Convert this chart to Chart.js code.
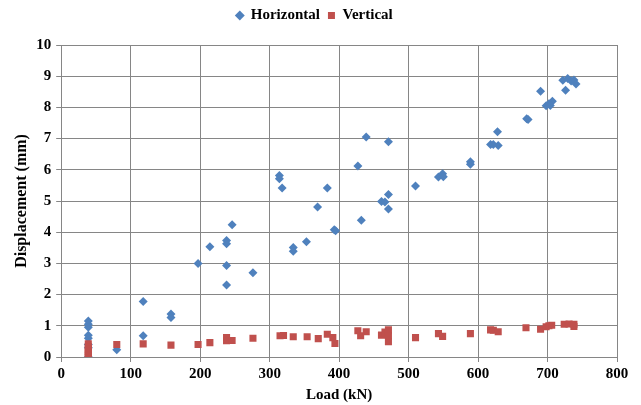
<!DOCTYPE html>
<html lang="en">
<head>
    <meta charset="UTF-8">
    <title>Load vs Displacement</title>
    <script src="https://cdn.jsdelivr.net/npm/chart.js@4.4.0/dist/chart.umd.min.js"></script>
    <style>
        body { margin: 0; background: #fff; }
        #wrap { width: 641px; height: 405px; }
    </style>
</head>
<body>
    <div id="wrap"><canvas id="chart" width="641" height="405"></canvas></div>
    <script>
        // Horizontal displacement
        const hLoad = [39, 39, 39, 39, 39, 39, 39, 39, 80, 118, 118, 158, 158, 197, 214, 238, 238, 238, 238, 246, 276,
            314, 314, 318, 334, 334, 353, 369, 383, 393, 395, 427, 432, 439, 461, 466, 471, 471, 471, 510,
            543, 549, 550, 589, 589, 618, 622, 629, 628, 670, 672, 690, 698, 702, 707, 704, 726, 722, 729, 734, 738, 741];
        const hDisp = [1.15, 1.05, 0.95, 0.7, 0.6, 0.4, 0.3, 0.0, 0.23, 1.78, 0.68, 1.38, 1.27, 3.0, 3.53, 3.73, 3.63, 2.93, 2.31, 4.24, 2.70,
            5.82, 5.71, 5.42, 3.51, 3.39, 3.69, 4.81, 5.42, 4.08, 4.05, 6.12, 4.38, 7.05, 4.98, 4.97, 5.21, 4.74, 6.9, 5.48,
            5.77, 5.87, 5.78, 6.26, 6.18, 6.81, 6.81, 6.78, 7.22, 7.64, 7.61, 8.52, 8.05, 8.12, 8.2, 8.06, 8.55, 8.87, 8.93, 8.85, 8.88, 8.75];

        // Vertical displacement
        const vLoad = [39, 39, 39, 39, 39, 39, 39, 80, 118, 158, 197, 214, 238, 238, 246, 276, 315, 320,
            334, 354, 370, 383, 391, 394, 427, 431, 439, 461, 466, 471, 471, 471,
            510, 543, 549, 589, 618, 622, 629, 669, 690, 698, 702, 706, 724, 731, 738, 738];
        const vDisp = [0.42, 0.33, 0.25, 0.18, 0.12, 0.06, 0.0, 0.4, 0.42, 0.38, 0.4, 0.46, 0.62, 0.52, 0.53, 0.6, 0.68, 0.69,
            0.65, 0.65, 0.59, 0.73, 0.62, 0.43, 0.84, 0.68, 0.81, 0.70, 0.8, 0.87, 0.68, 0.49,
            0.62, 0.75, 0.66, 0.75, 0.87, 0.86, 0.81, 0.94, 0.89, 0.97, 1.0, 1.02, 1.05, 1.06, 1.05, 0.98];

        const toPoints = (xs, ys) => xs.map((x, i) => ({ x: x, y: ys[i] }));
        const serif = "'Liberation Serif', 'Times New Roman', serif";
        const gridGray = '#868686';

        // extra room under the legend, like the Excel original
        const legendGap = {
            id: 'legendGap',
            beforeUpdate(chart) {
                const lg = chart.legend;
                if (lg && !lg._gapPatched) {
                    const fit = lg.fit;
                    lg.fit = function () {
                        fit.call(this);
                        this.height += 12;
                    };
                    lg._gapPatched = true;
                }
            }
        };

        new Chart(document.getElementById('chart'), {
            type: 'scatter',
            data: {
                datasets: [
                    {
                        label: 'Horizontal',
                        data: toPoints(hLoad, hDisp),
                        pointStyle: 'rectRot',
                        pointRadius: 4.5,
                        backgroundColor: '#4F81BD',
                        borderColor: '#4F81BD',
                        borderWidth: 0,
                        order: 2
                    },
                    {
                        label: 'Vertical',
                        data: toPoints(vLoad, vDisp),
                        pointStyle: 'rect',
                        pointRadius: 5,
                        backgroundColor: '#C0504D',
                        borderColor: '#C0504D',
                        borderWidth: 0,
                        order: 1
                    }
                ]
            },
            options: {
                responsive: false,
                animation: false,
                layout: { padding: { left: 12, right: 24, top: 0, bottom: 1 } },
                plugins: {
                    tooltip: { enabled: false },
                    legend: {
                        position: 'top',
                        labels: {
                            usePointStyle: true,
                            boxWidth: 7,
                            boxHeight: 7,
                            padding: 8,
                            color: '#000',
                            font: { family: serif, size: 15, weight: 'bold' },
                            sort: (a, b) => a.datasetIndex - b.datasetIndex
                        }
                    }
                },
                scales: {
                    x: {
                        type: 'linear',
                        min: 0,
                        max: 800,
                        ticks: { stepSize: 100, color: '#000', font: { family: serif, size: 15, weight: 'bold' }, padding: 3 },
                        grid: { color: gridGray, tickLength: 5 },
                        border: { color: gridGray },
                        title: { display: true, text: 'Load (kN)', color: '#000', font: { family: serif, size: 15, weight: 'bold' }, padding: { top: 0, bottom: 0 } }
                    },
                    y: {
                        type: 'linear',
                        min: 0,
                        max: 10,
                        ticks: { stepSize: 1, color: '#000', font: { family: serif, size: 15, weight: 'bold' }, padding: 5 },
                        grid: { color: gridGray, tickLength: 5 },
                        border: { color: gridGray },
                        title: { display: true, text: 'Displacement (mm)', color: '#000', font: { family: serif, size: 16, weight: 'bold' }, padding: { top: 0, bottom: 0 } }
                    }
                }
            },
            plugins: [legendGap]
        });
    </script>
</body>
</html>
